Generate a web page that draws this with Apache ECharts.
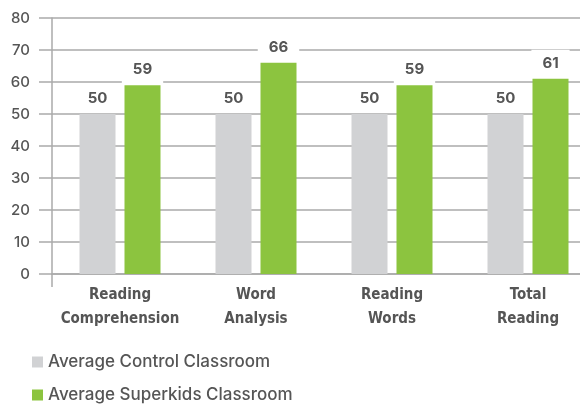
<!DOCTYPE html>
<html>
<head>
<meta charset="utf-8">
<script src="https://cdn.jsdelivr.net/npm/echarts@6/dist/echarts.min.js"></script>
<style>
  html, body { margin: 0; padding: 0; background: #fff; }
  #main { width: 580px; height: 404px; }
</style>
</head>
<body>
<div id="main"></div>
<script>
var categories = ['Reading\nComprehension', 'Word\nAnalysis', 'Reading\nWords', 'Total\nReading'];
var controlValues = [50, 50, 50, 50];
var superkidsValues = [59, 66, 59, 61];
var yTicks = { min: 0, max: 80, interval: 10 };

var chartDom = document.getElementById('main');
var myChart = echarts.init(chartDom);
var option;

var valueLabel = {
  show: true,
  position: 'top',
  distance: 2,
  fontFamily: 'Inter, Liberation Sans, sans-serif',
  fontSize: 15,
  fontWeight: 'bold',
  color: '#555',
  backgroundColor: '#fff',
  padding: [6, 11]
};

option = {
  animation: false,
  textStyle: { fontFamily: 'Inter, Liberation Sans, sans-serif' },
  grid: {
    left: 52,
    top: 18,
    width: 544,
    height: 256,
    outerBoundsMode: 'none',
    containLabel: false
  },
  legend: {
    orient: 'vertical',
    left: 27,
    top: 347,
    height: 60,
    itemWidth: 11,
    itemHeight: 11,
    itemGap: 13,
    icon: 'rect',
    textStyle: { fontSize: 17, fontWeight: 500, color: '#555', lineHeight: 20 },
    data: ['Average Control Classroom', 'Average Superkids Classroom']
  },
  xAxis: {
    type: 'category',
    data: categories,
    axisLine: { lineStyle: { color: '#aaa', width: 1.5 } },
    axisTick: {
      show: true,
      length: 13,
      interval: function (index) { return index === 0; },
      lineStyle: { color: '#aaa', width: 1.5 }
    },
    axisLabel: {
      interval: 0,
      margin: 9,
      fontFamily: 'DejaVu Sans Condensed, sans-serif',
      fontSize: 15,
      fontWeight: 'bold',
      color: '#555',
      lineHeight: 24
    }
  },
  yAxis: {
    type: 'value',
    min: yTicks.min,
    max: yTicks.max,
    interval: yTicks.interval,
    axisLine: { show: true, lineStyle: { color: '#aaa', width: 1.5 } },
    axisTick: { show: true, length: 13, lineStyle: { color: '#aaa', width: 1.5 } },
    splitLine: { lineStyle: { color: '#aaa', width: 1.5 } },
    axisLabel: { margin: 22, fontSize: 15, fontWeight: 500, color: '#555' }
  },
  series: [
    {
      name: 'Average Control Classroom',
      type: 'bar',
      barWidth: 36,
      barGap: '25%',
      itemStyle: { color: '#d1d2d4' },
      label: valueLabel,
      data: controlValues
    },
    {
      name: 'Average Superkids Classroom',
      type: 'bar',
      barWidth: 36,
      barGap: '25%',
      itemStyle: { color: '#8cc43f' },
      label: valueLabel,
      data: superkidsValues
    }
  ]
};

option && myChart.setOption(option);
</script>
</body>
</html>
